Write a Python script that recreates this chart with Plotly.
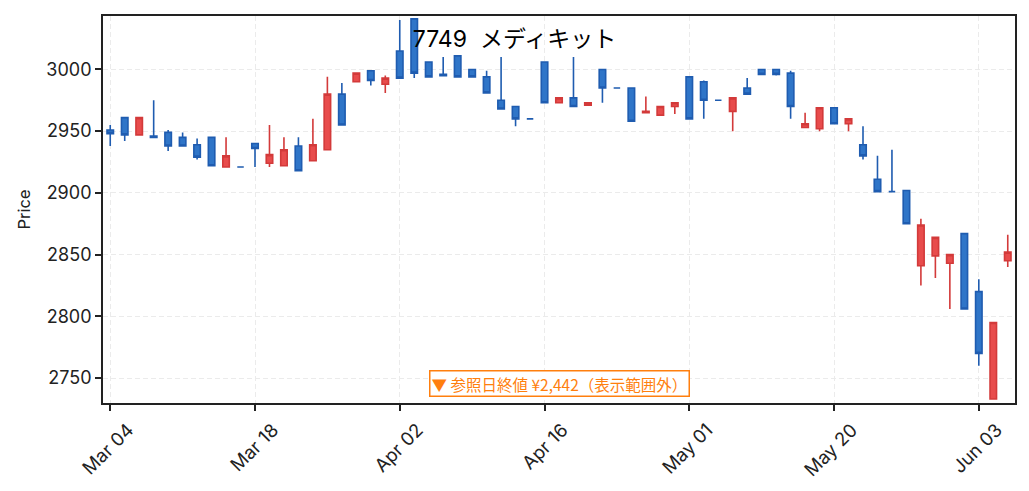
import pandas as pd
import plotly.graph_objects as go

# 7749 メディキット 日足（2024年3月〜6月）
dates = [
    "2024-03-04", "2024-03-05", "2024-03-06", "2024-03-07", "2024-03-08",
    "2024-03-11", "2024-03-12", "2024-03-13", "2024-03-14", "2024-03-15",
    "2024-03-18", "2024-03-19", "2024-03-21", "2024-03-22", "2024-03-25",
    "2024-03-26", "2024-03-27", "2024-03-28", "2024-03-29", "2024-04-01",
    "2024-04-02", "2024-04-03", "2024-04-04", "2024-04-05", "2024-04-08",
    "2024-04-09", "2024-04-10", "2024-04-11", "2024-04-12", "2024-04-15",
    "2024-04-16", "2024-04-17", "2024-04-18", "2024-04-19", "2024-04-22",
    "2024-04-23", "2024-04-24", "2024-04-25", "2024-04-26", "2024-04-30",
    "2024-05-01", "2024-05-02", "2024-05-07", "2024-05-08", "2024-05-09",
    "2024-05-10", "2024-05-13", "2024-05-14", "2024-05-15", "2024-05-16",
    "2024-05-20", "2024-05-21", "2024-05-22", "2024-05-23", "2024-05-24",
    "2024-05-27", "2024-05-28", "2024-05-29", "2024-05-30", "2024-05-31",
    "2024-06-03", "2024-06-04", "2024-06-05",
]
opens = [
    2951, 2961, 2947, 2946, 2949, 2945, 2939, 2945, 2921, 2921,
    2940, 2924, 2922, 2938, 2926, 2935, 2980, 2990, 2999, 2988,
    3015, 3041, 3006, 2996, 3011, 3000, 2994, 2975, 2970, 2960,
    3006, 2973, 2977, 2971, 3000, 2985, 2985, 2965, 2963, 2970,
    2994, 2990, 2975, 2966, 2985, 3000, 3000, 2997, 2953, 2952,
    2969, 2956, 2939, 2911, 2901, 2902, 2841, 2849, 2843, 2867,
    2820, 2733, 2845,
]
highs = [
    2955, 2961, 2961, 2975, 2951, 2949, 2944, 2945, 2945, 2921,
    2940, 2955, 2945, 2945, 2960, 2994, 2989, 2997, 2999, 2995,
    3040, 3041, 3006, 3010, 3011, 3000, 2999, 3010, 2970, 2960,
    3006, 2977, 3010, 2973, 3000, 2985, 2985, 2978, 2970, 2973,
    2994, 2991, 2975, 2977, 2993, 3000, 3000, 2999, 2965, 2969,
    2969, 2960, 2954, 2930, 2935, 2902, 2879, 2864, 2850, 2867,
    2830, 2795, 2866,
]
lows = [
    2938, 2942, 2947, 2945, 2934, 2938, 2927, 2922, 2921, 2921,
    2921, 2921, 2922, 2918, 2926, 2935, 2955, 2990, 2987, 2981,
    2993, 2993, 2994, 2995, 2994, 2994, 2981, 2968, 2954, 2960,
    2973, 2973, 2970, 2971, 2973, 2985, 2958, 2965, 2963, 2964,
    2960, 2960, 2975, 2950, 2980, 2996, 2995, 2960, 2953, 2950,
    2956, 2950, 2927, 2901, 2901, 2875, 2825, 2831, 2806, 2806,
    2760, 2733, 2840,
]
closes = [
    2948, 2947, 2961, 2945, 2938, 2938, 2929, 2922, 2930, 2921,
    2936, 2931, 2935, 2918, 2939, 2980, 2955, 2997, 2991, 2993,
    2993, 2997, 2994, 2995, 2994, 2994, 2981, 2968, 2960, 2960,
    2973, 2977, 2970, 2973, 2985, 2985, 2958, 2966, 2970, 2973,
    2960, 2975, 2975, 2977, 2980, 2996, 2996, 2970, 2956, 2969,
    2956, 2960, 2930, 2901, 2901, 2875, 2874, 2864, 2850, 2806,
    2770, 2795, 2852,
]

title_text = "7749\u00a0\u00a0メディキット"
note_text = "▼ 参照日終値 ¥2,442（表示範囲外）"
y_range = [2729.8, 3043.3]

df = pd.DataFrame({"date": dates, "open": opens, "high": highs, "low": lows, "close": closes})
tick_vals = df["date"].iloc[::10].tolist()
tick_text = pd.to_datetime(tick_vals).strftime("%b %d").tolist()

font_main = "Inter, Noto Sans CJK JP, sans-serif"

# ページ側に8pxの余白が入るので、その分だけ図を小さくしておく
W, H = 1021, 483

fig = go.Figure(data=[go.Candlestick(
    x=df["date"],
    open=df["open"],
    high=df["high"],
    low=df["low"],
    close=df["close"],
    increasing=dict(fillcolor="#E84C4C", line=dict(color="#D33A3A", width=1.6)),
    decreasing=dict(fillcolor="#2F75C8", line=dict(color="#1F5CB0", width=1.6)),
    whiskerwidth=0,
    showlegend=False,
)])

fig.add_annotation(
    x=0.5, y=20 / 389, xref="paper", yref="paper", xanchor="center", yanchor="middle",
    text=note_text, showarrow=False,
    font=dict(family="Noto Sans CJK JP", size=15.5, color="#FF7F0E"),
    bgcolor="white", bordercolor="#FF7F0E", borderwidth=1.5, borderpad=1,
)

fig.update_layout(
    width=W, height=H,
    margin=dict(l=95, r=14, t=6, b=88),
    paper_bgcolor="white", plot_bgcolor="white",
    boxgap=0.36,
    title=dict(text=title_text, x=(514.5 - 8) / W, xref="container", xanchor="center",
               y=1 - 31 / H, yref="container", yanchor="middle",
               font=dict(family=font_main, size=23, color="black")),
    font=dict(family=font_main, size=18, color="#222"),
    xaxis=dict(
        type="category", range=[-0.5, len(dates) - 0.5],
        tickvals=tick_vals, ticktext=tick_text, tickangle=-45,
        tickfont=dict(size=18.5),
        ticklabelshift=18, ticklabelstandoff=1,
        ticks="outside", ticklen=6, tickwidth=1.5, tickcolor="#222",
        showline=True, linecolor="#222", linewidth=1.8, mirror=True,
        showgrid=True, gridcolor="#EBEBEB", gridwidth=1.2, griddash="5px,3px",
        rangeslider=dict(visible=False), zeroline=False,
    ),
    yaxis=dict(
        range=y_range, dtick=50, title=dict(text="Price", font=dict(size=16.5), standoff=12),
        ticks="outside", ticklen=6, tickwidth=1.5, tickcolor="#222",
        showline=True, linecolor="#222", linewidth=1.8, mirror=True,
        showgrid=True, gridcolor="#EBEBEB", gridwidth=1.2, griddash="5px,3px",
        zeroline=False,
    ),
)

fig.write_html("out.html")
